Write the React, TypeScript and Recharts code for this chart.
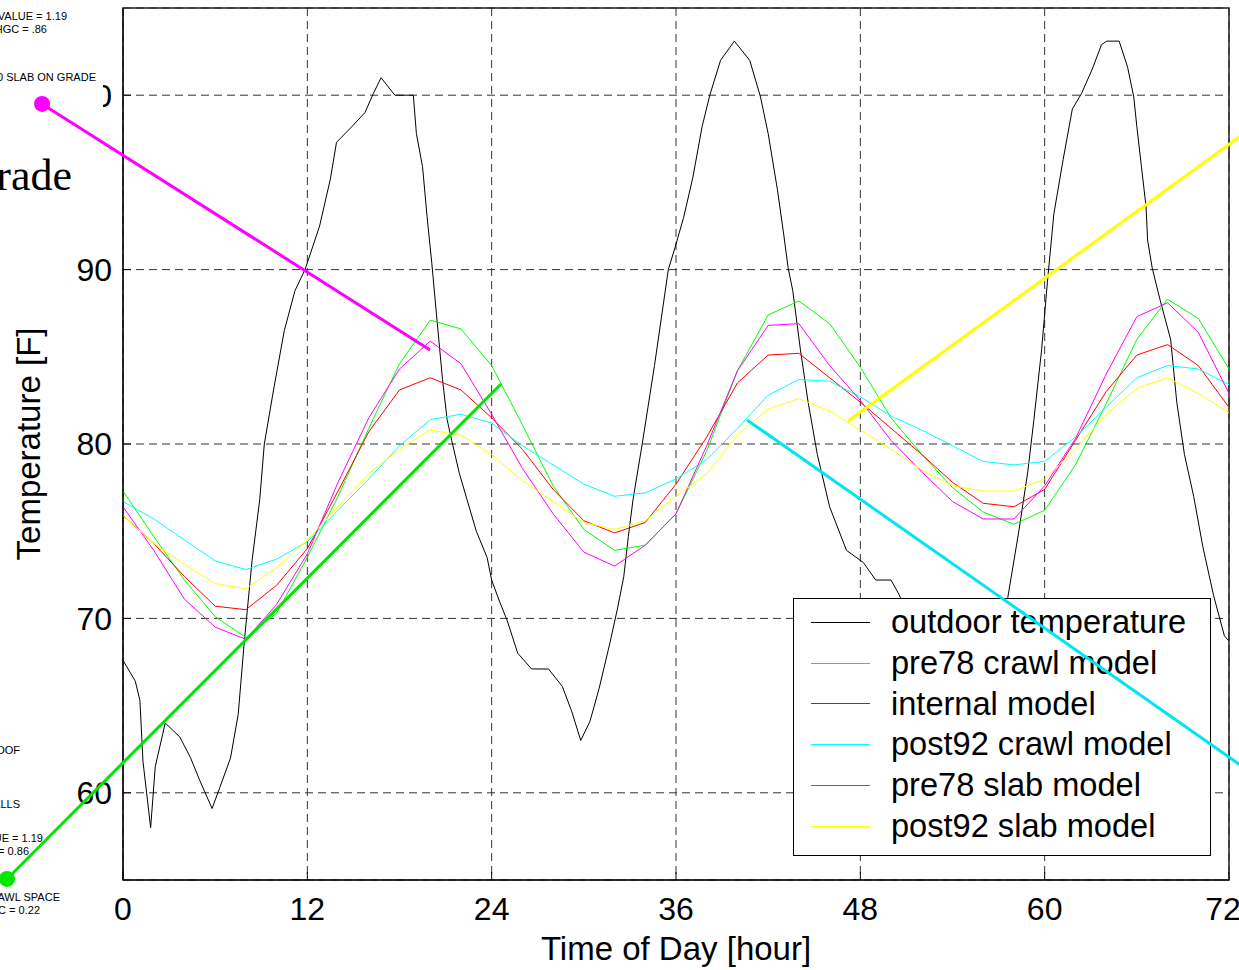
import { LineChart, Line, XAxis, YAxis, CartesianGrid, ReferenceArea, ReferenceLine, ReferenceDot } from 'recharts';

const W = 1239;
const H = 970;
const FONT = '"Liberation Sans", Arial, sans-serif';

// model curves, read every 2 hours
const hours = [0, 2, 4, 6, 8, 10, 12, 14, 16, 18, 20, 22, 24, 26, 28, 30, 32, 34, 36, 38, 40, 42, 44, 46, 48, 50, 52, 54, 56, 58, 60, 62, 64, 66, 68, 70, 72];
const pre78Crawl = [77.3, 74.7, 72.2, 70.1, 68.9, 70.3, 73.5, 77.0, 80.9, 84.6, 87.1, 86.6, 84.5, 81.1, 77.6, 75.1, 73.9, 74.2, 76.0, 79.6, 84.2, 87.4, 88.2, 86.9, 84.4, 81.5, 79.4, 77.5, 76.1, 75.4, 76.2, 78.8, 82.3, 86.0, 88.3, 87.2, 84.3];
const internal = [75.9, 74.3, 72.4, 70.7, 70.5, 71.9, 74.0, 77.3, 80.7, 83.1, 83.8, 83.1, 81.5, 79.7, 77.4, 75.6, 74.9, 75.5, 77.7, 80.4, 83.5, 85.1, 85.2, 83.8, 82.4, 80.9, 79.4, 77.8, 76.6, 76.4, 77.4, 80.2, 83.0, 85.1, 85.7, 84.5, 82.1];
const post92Crawl = [76.7, 75.7, 74.5, 73.3, 72.8, 73.4, 74.4, 76.2, 78.0, 79.9, 81.4, 81.7, 81.2, 79.9, 78.8, 77.7, 77.0, 77.2, 78.0, 79.1, 80.9, 82.8, 83.7, 83.6, 82.7, 81.6, 80.8, 79.9, 79.0, 78.8, 79.0, 80.4, 82.1, 83.8, 84.5, 84.3, 83.4];
const pre78Slab = [76.4, 73.9, 71.1, 69.5, 68.8, 70.8, 73.7, 77.8, 81.5, 84.3, 85.9, 84.6, 81.7, 78.6, 76.0, 73.8, 73.0, 74.2, 76.0, 79.9, 84.2, 86.8, 86.9, 84.5, 82.5, 80.2, 78.4, 76.7, 75.7, 75.7, 77.6, 80.3, 84.0, 87.3, 88.1, 86.4, 82.9];
const post92Slab = [75.9, 74.3, 73.1, 72.0, 71.7, 72.9, 74.5, 76.4, 78.3, 79.7, 80.8, 80.5, 79.4, 77.9, 76.7, 75.5, 75.1, 75.6, 77.0, 78.3, 80.5, 82.0, 82.6, 81.9, 80.8, 79.7, 78.5, 77.6, 77.3, 77.3, 78.0, 79.7, 81.7, 83.2, 83.8, 82.9, 81.8];

// outdoor temperature, read at its turning points
const outdoorHours = [0, 0.8, 1.1, 1.3, 1.8, 2.1, 2.75, 3.7, 4.4, 5.0, 5.8, 6.3, 7.0, 7.5, 7.9, 8.4, 8.9, 9.2, 9.8, 10.5, 11.2, 11.85, 12.8, 13.5, 13.9, 14.9, 15.75, 16.3, 16.8, 17.7, 18.9, 19.1, 19.5, 19.8, 20.1, 20.4, 20.8, 21.1, 21.4, 21.9, 22.4, 23.0, 23.7, 24.0, 24.5, 25.0, 25.7, 26.6, 27.7, 28.6, 29.2, 29.8, 30.4, 31.0, 31.7, 32.2, 32.6, 32.9, 33.2, 33.8, 34.6, 35.5, 35.95, 36.5, 37.1, 37.7, 38.2, 38.9, 39.8, 40.8, 41.5, 42.0, 42.6, 43.0, 43.3, 43.6, 44.1, 44.6, 45.2, 46.0, 47.1, 48.2, 49.0, 50.0, 50.5, 51.5, 52.5, 53.5, 54.3, 55.0, 56.0, 57.0, 57.6, 58.3, 58.9, 59.3, 59.8, 60.2, 60.6, 61.2, 61.8, 62.4, 63.1, 63.7, 64.05, 64.85, 65.4, 65.8, 66.0, 66.3, 66.6, 66.7, 67.0, 67.5, 68.2, 68.6, 69.1, 69.7, 70.3, 71.0, 71.7, 72.0];
const outdoorTemp = [67.6, 66.4, 65.3, 61.8, 58.0, 61.5, 64.0, 63.2, 62.0, 60.7, 59.1, 60.3, 62.0, 64.5, 68.7, 73.3, 76.8, 80.0, 83.1, 86.5, 88.8, 90.0, 92.5, 95.2, 97.3, 98.2, 99.0, 100.1, 101.0, 100.0, 100.0, 97.8, 95.9, 93.0, 90.4, 87.5, 83.7, 81.4, 80.2, 78.3, 76.8, 75.0, 73.5, 72.2, 71.0, 69.9, 68.0, 67.1, 67.1, 66.1, 64.7, 63.0, 64.1, 66.0, 68.6, 70.6, 72.4, 74.7, 76.8, 80.0, 84.5, 90.0, 91.3, 93.0, 95.3, 98.2, 100.0, 102.0, 103.1, 102.0, 99.9, 97.8, 94.6, 92.1, 90.1, 88.8, 85.4, 82.4, 79.4, 76.4, 73.9, 73.2, 72.2, 72.2, 71.4, 69.5, 67.0, 64.5, 63.2, 64.3, 66.8, 69.3, 71.2, 74.9, 78.4, 81.4, 85.4, 89.5, 93.2, 96.3, 99.2, 100.1, 101.5, 102.9, 103.1, 103.1, 101.6, 99.9, 98.2, 95.9, 93.6, 91.7, 90.1, 88.3, 86.0, 82.4, 79.4, 77.0, 74.1, 71.3, 69.0, 68.7];

const xTicks = [0, 12, 24, 36, 48, 60, 72];
const yTicks = [60, 70, 80, 90, 100];

const series = [
  { key: 'outdoor', name: 'outdoor temperature', color: '#000000' },
  { key: 'pre78Crawl', name: 'pre78 crawl model', color: '#00ff00' },
  { key: 'internal', name: 'internal model', color: '#ff0000' },
  { key: 'post92Crawl', name: 'post92 crawl model', color: '#00ffff' },
  { key: 'pre78Slab', name: 'pre78 slab model', color: '#ff00ff' },
  { key: 'post92Slab', name: 'post92 slab model', color: '#ffff00' },
];

const modelData = hours.map((h, i) => ({
  h,
  pre78Crawl: pre78Crawl[i],
  internal: internal[i],
  post92Crawl: post92Crawl[i],
  pre78Slab: pre78Slab[i],
  post92Slab: post92Slab[i],
}));
const outdoorData = outdoorHours.map((h, i) => ({ h, outdoor: outdoorTemp[i] }));

// pointer lines from the neighbouring figure panels (hours, degrees)
const pointers = [
  { id: 'slab', color: '#ff00ff', x1: -5.27, y1: 99.5, x2: 19.99, y2: 85.39, dot: true },
  { id: 'crawl', color: '#00e600', x1: -7.55, y1: 55.06, x2: 24.61, y2: 83.44, dot: true },
  { id: 'post92crawl', color: '#00e5f0', x1: 40.62, y1: 81.38, x2: 76.62, y2: 59.2, dot: false },
  { id: 'post92slab', color: '#ffff00', x1: 47.2, y1: 81.32, x2: 76.62, y2: 100.13, dot: false },
];

// fragments of the neighbouring panels' captions: [text, right edge, baseline]
const sideNotes: [string, number, number][] = [
  ['VALUE = 1.19', 67, 20],
  ['HGC = .86', 47, 33],
  ['0 SLAB ON GRADE', 96, 81],
  ['OOF', 20, 754],
  ['ALLS', 20, 808],
  ['UE = 1.19', 43, 842],
  ['= 0.86', 29, 855],
  ['AWL SPACE', 60, 901],
  ['C = 0.22', 40, 914],
];

const tickStyle = { fontSize: 32, fill: '#000', fontFamily: FONT };

const Legend = () => (
  <div
    style={{
      position: 'absolute',
      left: 793,
      top: 598,
      width: 418,
      height: 258,
      boxSizing: 'border-box',
      border: '1px solid #000',
      background: '#fff',
      paddingTop: 3,
      fontFamily: FONT,
      fontSize: 32.6,
    }}
  >
    {series.map((s) => (
      <div key={s.key} style={{ height: 40.8, display: 'flex', alignItems: 'center' }}>
        <svg width={59} height={3} style={{ marginLeft: 17, display: 'block' }}>
          <line x1={0} x2={59} y1={1.5} y2={1.5} stroke={s.color} strokeWidth={1} />
        </svg>
        <span style={{ marginLeft: 21, lineHeight: 1 }}>{s.name}</span>
      </div>
    ))}
  </div>
);

export default function App() {
  return (
    <div style={{ position: 'absolute', left: 0, top: 0, width: W, height: H, background: '#fff' }}>
      <div style={{ position: 'absolute', left: 0, top: 0 }}>
        <LineChart width={W} height={H} data={modelData} margin={{ top: 8, right: 10, left: 0, bottom: 0 }}>
          <CartesianGrid stroke="#333" strokeDasharray="8 5" />
          <XAxis
            dataKey="h"
            type="number"
            domain={[0, 72]}
            ticks={xTicks}
            height={90}
            tickSize={-8}
            tickMargin={25}
            tick={tickStyle}
            stroke="#000"
            label={{ value: 'Time of Day [hour]', position: 'insideBottom', offset: 10, fontSize: 33, fill: '#000', fontFamily: FONT }}
          />
          <YAxis
            type="number"
            domain={[55, 105]}
            ticks={yTicks}
            width={123}
            tickSize={-8}
            tickMargin={19}
            tick={tickStyle}
            stroke="#000"
            label={{ value: 'Temperature [F]', angle: -90, position: 'insideLeft', offset: 28, fontSize: 33, fill: '#000', fontFamily: FONT, style: { textAnchor: 'middle' } }}
          />
          <YAxis
            yAxisId="right"
            orientation="right"
            type="number"
            domain={[55, 105]}
            ticks={yTicks}
            width={0}
            tickSize={-8}
            tick={() => <g />}
            stroke="#000"
          />
          <ReferenceArea x1={0} x2={72} y1={55} y2={105} fill="none" stroke="#222" strokeWidth={1.5} />
          <Line data={outdoorData} dataKey="outdoor" stroke="#000" strokeWidth={1} dot={false} isAnimationActive={false} />
          {series.slice(1).map((s) => (
            <Line key={s.key} dataKey={s.key} stroke={s.color} strokeWidth={1} dot={false} isAnimationActive={false} />
          ))}
        </LineChart>
      </div>
      <Legend />
      <svg width={W} height={H} style={{ position: 'absolute', left: 0, top: 0, pointerEvents: 'none' }}>
        <rect x={0} y={40} width={103} height={170} fill="#fff" />
        {sideNotes.map(([t, x, y]) => (
          <text key={t} x={x} y={y} fontSize={11} fontFamily={FONT} textAnchor="end" fill="#000">
            {t}
          </text>
        ))}
        <text x={72} y={190} fontSize={44} fontFamily='"Liberation Serif", "Times New Roman", serif' textAnchor="end" fill="#000">
          rade
        </text>
      </svg>
      <div style={{ position: 'absolute', left: 0, top: 0, pointerEvents: 'none' }}>
        <LineChart width={W} height={H} data={modelData} margin={{ top: 8, right: 10, left: 123, bottom: 90 }}>
          <XAxis dataKey="h" type="number" domain={[0, 72]} hide />
          <YAxis type="number" domain={[55, 105]} hide />
          <Line dataKey="internal" stroke="none" dot={false} activeDot={false} isAnimationActive={false} />
          {pointers.map((p) => (
            <ReferenceLine
              key={p.id}
              segment={[
                { x: p.x1, y: p.y1 },
                { x: p.x2, y: p.y2 },
              ]}
              stroke={p.color}
              strokeWidth={3}
              ifOverflow="visible"
            />
          ))}
          {pointers
            .filter((p) => p.dot)
            .map((p) => (
              <ReferenceDot key={p.id + '-dot'} x={p.x1} y={p.y1} r={8} fill={p.color} stroke="none" ifOverflow="visible" />
            ))}
        </LineChart>
      </div>
    </div>
  );
}
